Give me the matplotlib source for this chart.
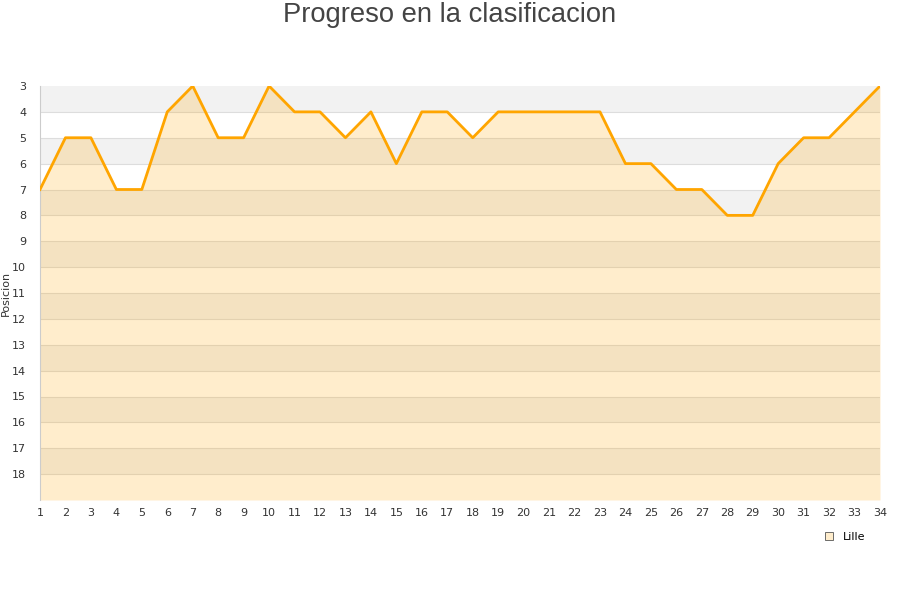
import matplotlib
matplotlib.use("Agg")
import matplotlib.pyplot as plt
from matplotlib.patches import Patch

jornadas = list(range(1, 35))
posicion = [7, 5, 5, 7, 7, 4, 3, 5, 5, 3, 4, 4, 5, 4, 6, 4, 4, 5, 4, 4,
            4, 4, 4, 6, 6, 7, 7, 8, 8, 6, 5, 5, 4, 3]
y_ticks = list(range(3, 19))
team = "Lille"
title = "Progreso en la clasificacion"

fig = plt.figure(figsize=(9, 6), dpi=100)
ax = fig.add_axes([40/900, 1-500/600, 840/900, 414/600])

y_min, y_max = 3, 19
for k in range(y_min, y_max):
    color = "#f2f2f2" if (k - y_min) % 2 == 0 else "#ffffff"
    ax.axhspan(k, k + 1, color=color, zorder=0, lw=0)
for k in range(y_min + 1, y_max):
    ax.axhline(k, color="#dddddd", lw=0.8, zorder=1)

ax.fill_between(jornadas, posicion, y_max, color="#ffa500", alpha=0.2, lw=0, zorder=2)
ax.plot(jornadas, posicion, color="#ffa500", lw=2.0, zorder=3)

ax.set_xlim(1, 34)
ax.set_ylim(y_max, y_min)
ax.set_xticks(jornadas)
ax.set_yticks(y_ticks)
ax.tick_params(length=0, labelsize=8, colors="#333333", pad=6)
ax.tick_params(axis="y", pad=10)
for s in ["top", "right", "bottom"]:
    ax.spines[s].set_visible(False)
ax.spines["left"].set_color("#cccccc")

ax.set_ylabel("Posicion", fontsize=8, color="#333333", labelpad=2)
ax.yaxis.set_label_coords(-0.035, 0.5)

fig.text(0.5, 1-15/600, title, ha="center", va="center", fontsize=19.7,
         color="#444444", family="Liberation Sans")

handle = Patch(facecolor="#ffedcc", edgecolor="#555555", lw=0.6)
fig.legend([handle], [team], loc="center", bbox_to_anchor=(845/900, 1-537/600),
           frameon=False, fontsize=8, handlelength=0.7, handleheight=0.7,
           handletextpad=0.9)

fig.savefig("out.png", dpi=100)
